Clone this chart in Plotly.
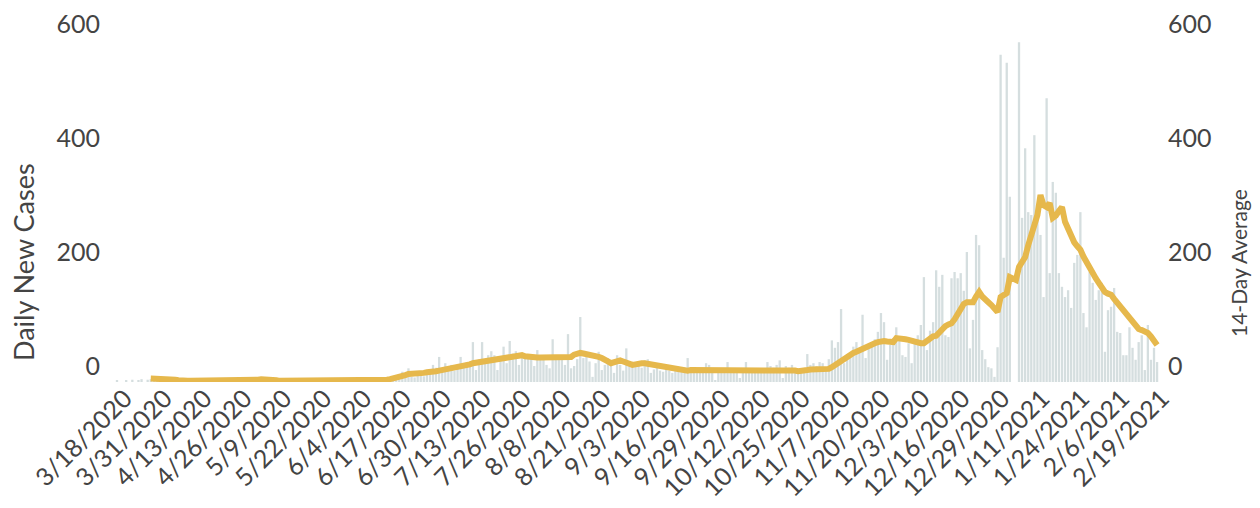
import pandas as pd
import plotly.graph_objects as go

start_date = "2020-03-18"

cases_1 = [2, 0, 0, 3, 0, 4, 0, 3, 5, 0, 4, 5, 3, 4]
cases_2 = [2, 1, 0, 2, 1, 0, 1, 2, 0, 1, 0, 2, 1, 0, 1, 0, 0, 2, 1, 0, 1, 0, 0, 1, 0, 8, 1, 0, 0]
cases_3 = [1, 0, 2, 3, 1, 4, 2, 1, 0, 1, 0, 0, 1, 0, 0, 1, 0, 0, 0, 1, 0, 0, 1, 0, 0, 0, 1, 0, 0, 1, 0]
cases_4 = [1, 0, 2, 1, 0, 3, 1, 2, 0, 2, 1, 3, 4, 2, 5, 6, 3, 8, 5, 18, 10, 24, 9, 8, 12, 14, 10, 16, 18]
cases_5 = [30, 25, 44, 22, 33, 27, 30, 20, 28, 44, 33, 35, 33, 70, 21, 40, 70, 38, 47, 54,
           47, 21, 40, 62, 33, 72, 50, 54, 30, 47, 42]
cases_6 = [42, 42, 28, 56, 45, 39, 30, 24, 75, 45, 39, 42, 30, 84, 24, 28, 40, 114, 42, 45,
           36, 9, 33, 53, 21, 30, 42, 28, 16, 47, 30]
cases_7 = [20, 59, 35, 28, 27, 30, 25, 38, 40, 16, 22, 25, 20, 18, 24, 20, 16, 22, 18,
           20, 25, 42, 20, 18, 22, 20, 25, 33, 30]
cases_8 = [21, 3, 20, 22, 18, 35, 21, 20, 22, 7, 20, 35, 22, 18, 21, 20, 24, 20, 35, 28,
           25, 30, 38, 7, 28, 25, 30, 22, 20, 18, 22]
cases_9 = [49, 30, 33, 28, 35, 33, 22, 40, 73, 60, 70, 128, 33, 45, 51, 62, 70, 55, 118, 42,
           58, 65, 75, 88, 121, 105, 39, 65, 70]
cases_10 = [96, 74, 47, 44, 68, 33, 75, 82, 100, 184, 56, 90, 105, 196, 167, 188, 82, 79, 182, 193,
            182, 191, 160, 228, 59, 109, 258, 240, 56, 40, 26]
cases_11 = [24, 9, 61, 574, 218, 560, 325, 0, 0, 596, 288, 410, 298, 293, 433, 289, 258, 149, 498, 191,
            351, 332, 191, 167, 149, 161, 130, 209, 223, 298, 121]
cases_12 = [96, 193, 174, 144, 161, 174, 53, 126, 132, 165, 88, 86, 47, 47, 96, 60, 39, 70, 82, 21,
            100, 39, 60, 35]

daily_cases = (cases_1 + cases_2 + cases_3 + cases_4 + cases_5 + cases_6 +
               cases_7 + cases_8 + cases_9 + cases_10 + cases_11 + cases_12)

avg_start_date = "2020-03-29"
avg_a = [6, 6, 6, 6, 6, 6, 5, 5, 4, 3]
avg_b = [2, 2, 2, 2, 2, 2, 2, 2, 2, 2, 2, 2, 2, 2, 2, 2, 2, 2, 2, 2, 2, 2, 2, 2, 3]
avg_c = [4, 5, 5, 5, 5, 4]
avg_d = [3, 2, 2, 2, 2, 2, 2, 2, 2, 2, 2, 2, 2, 2, 2, 2, 2, 2, 2, 2, 2, 2, 2, 2, 2, 2, 2, 2, 2, 2, 2, 2, 2, 2]
avg_e = [2, 3, 4, 5, 6, 8, 9, 10, 12, 14, 14, 15, 15, 16, 16, 17, 17]
avg_f = [18, 19, 20, 21, 22, 23, 24, 25, 26, 27, 27, 29, 31, 33, 34, 35, 36, 37, 38, 38,
         40, 40, 41, 42, 43, 43, 44, 45, 46, 47, 45, 44]
avg_g = [43, 43, 43, 43, 43, 43, 42, 42, 42, 43, 43, 42, 42, 44, 48, 51, 51, 50, 49, 49, 47]
avg_h = [46, 44, 42, 40, 36, 33, 35, 37, 38]
avg_i = [36, 34, 31, 30, 31, 33, 33, 33, 32, 31, 30, 29, 27, 26, 25, 24, 23, 22, 21,
         20, 19, 20, 21, 21, 22, 22, 22, 22, 22]
avg_j = [22, 22, 22, 22, 22, 22, 22, 22, 22, 22, 22, 22, 22, 22, 22, 22, 22, 22, 22, 22,
         22, 22, 22, 22, 22, 22, 21, 20, 19, 19, 20]
avg_k = [21, 22, 22, 22, 22, 22, 22, 23, 26, 30, 34, 38, 42, 45, 48, 51, 53, 56, 59, 62,
         65, 67, 68, 70, 72, 72, 71, 70, 70]
avg_l = [77, 77, 76, 75, 74, 72, 70, 69, 68, 68, 72, 79, 80, 81, 88, 95, 98, 101, 103, 110,
         120, 132, 137, 140, 140, 140]
avg_m = [150, 158, 150, 143, 140, 135, 130, 123, 149, 153, 156, 184, 182, 179, 202, 210, 219, 240, 261, 278,
         293, 328, 310, 307, 314, 288, 292, 300, 307, 281, 268, 254, 245, 238, 232, 220, 209, 200, 190, 182,
         174, 166, 158, 155, 153, 146, 139, 132, 126, 120, 114, 105, 96, 93, 91, 89, 86, 80, 72, 65]
avg14 = avg_a + avg_b + avg_c + avg_d + avg_e + avg_f + avg_g + avg_h + avg_i + avg_j + avg_k + avg_l + avg_m

tick_labels = ["3/18/2020", "3/31/2020", "4/13/2020", "4/26/2020", "5/9/2020", "5/22/2020",
               "6/4/2020", "6/17/2020", "6/30/2020", "7/13/2020", "7/26/2020", "8/8/2020",
               "8/21/2020", "9/3/2020", "9/16/2020", "9/29/2020", "10/12/2020", "10/25/2020",
               "11/7/2020", "11/20/2020", "12/3/2020", "12/16/2020", "12/29/2020", "1/11/2021",
               "1/24/2021", "2/6/2021", "2/19/2021"]
y_ticks = [0, 200, 400, 600]

dates = pd.date_range(start_date, periods=len(daily_cases), freq="D")
avg_dates = pd.date_range(avg_start_date, periods=len(avg14), freq="D")
tick_dates = pd.to_datetime(tick_labels, format="%m/%d/%Y")

BAR_COLOR = "#D5DEDF"
LINE_COLOR = "#E6B84C"
TEXT = "#444444"
FONT = "Lato"

# the page body adds an 8px offset; margins compensate for it
L, R, T, B = 100, 105, 32, 134
W, H = 1260, 508
PW, PH = W - L - R, H - T - B


def px_to_paper_x(x):
    return (x - L) / PW


def px_to_paper_y(y):
    return (H - B - y) / PH


fig = go.Figure()
fig.add_trace(go.Bar(x=dates, y=daily_cases, marker=dict(color=BAR_COLOR, line=dict(width=0)),
                     name="Daily New Cases", yaxis="y"))
fig.add_trace(go.Scatter(x=avg_dates, y=avg14, mode="lines", name="14-Day Average",
                         line=dict(color=LINE_COLOR, width=6), yaxis="y2"))

fig.update_layout(
    width=W, height=H,
    margin=dict(l=L, r=R, t=T, b=B, autoexpand=False),
    paper_bgcolor="white", plot_bgcolor="white",
    showlegend=False, bargap=0.25,
    font=dict(family=FONT, color=TEXT),
    xaxis=dict(type="date", range=["2020-03-15 01:40", "2021-02-21 22:20"],
               tickmode="array", tickvals=tick_dates, ticktext=tick_labels,
               tickangle=-45, tickfont=dict(size=25, color=TEXT), automargin=False,
               ticklabelstandoff=-4, ticklabelshift=8, ticklabeloverflow="allow",
               showgrid=False, zeroline=False, showline=False, ticks=""),
    yaxis=dict(range=[0, 600], tickmode="array", tickvals=y_ticks, automargin=False,
               tickfont=dict(size=25, color=TEXT), ticklabelshift=-16, ticklabelstandoff=7,
               ticklabeloverflow="allow",
               showgrid=False, zeroline=False, showline=False, ticks=""),
    yaxis2=dict(range=[0, 600], tickmode="array", tickvals=y_ticks, overlaying="y", side="right",
                tickfont=dict(size=25, color=TEXT), ticklabelshift=-16, ticklabelstandoff=4,
                ticklabeloverflow="allow", automargin=False,
                showgrid=False, zeroline=False, showline=False, ticks=""),
    annotations=[
        dict(text="Daily New Cases", textangle=-90, showarrow=False,
             xref="paper", yref="paper", x=px_to_paper_x(15), y=px_to_paper_y(254),
             xanchor="center", yanchor="middle", font=dict(size=27, color=TEXT)),
        dict(text="14-Day Average", textangle=-90, showarrow=False,
             xref="paper", yref="paper", x=px_to_paper_x(1230), y=px_to_paper_y(255),
             xanchor="center", yanchor="middle", font=dict(size=21, color=TEXT)),
    ],
)

fig.write_html("out.html")
